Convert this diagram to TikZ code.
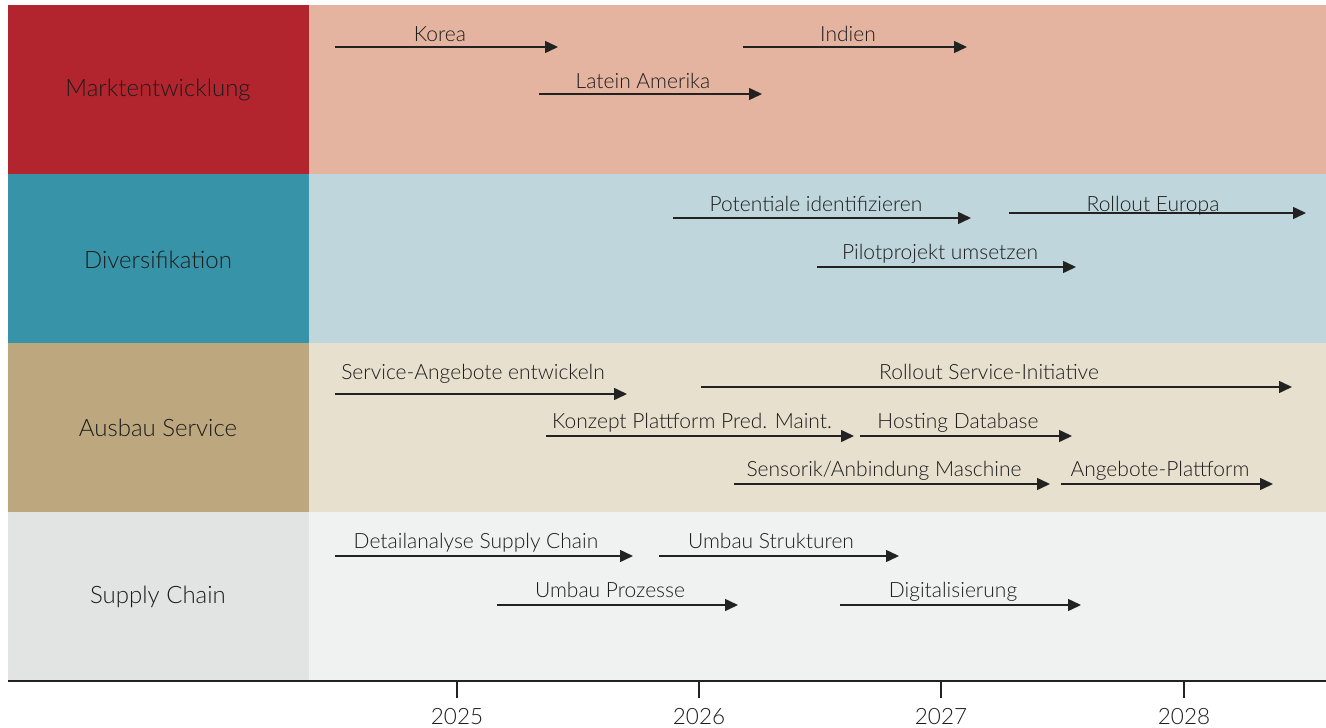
\documentclass[tikz,border=0pt]{standalone}
\usepackage{fontspec}
\setmainfont{Lato}[UprightFont={* Light}]
\usetikzlibrary{arrows.meta}

\definecolor{mkDark}{HTML}{B3252E}
\definecolor{mkLight}{HTML}{E5B4A0}
\definecolor{dvDark}{HTML}{3793A8}
\definecolor{dvLight}{HTML}{BFD6DC}
\definecolor{svDark}{HTML}{BCA77E}
\definecolor{svLight}{HTML}{E8E0CE}
\definecolor{scDark}{HTML}{E2E4E3}
\definecolor{scLight}{HTML}{F0F2F1}
\definecolor{ink}{HTML}{222222}
\definecolor{txt}{HTML}{1C1C1C}

\tikzset{
  taskarrow/.style={draw=ink, line width=1.5pt, -{Triangle[length=13pt,width=12pt]}},
  tasklabel/.style={anchor=base, text=txt, font=\fontsize{21}{24}\selectfont, inner sep=0pt},
  rowlabel/.style={text=txt, font=\fontsize{24}{27}\selectfont, inner sep=0pt},
  yearlabel/.style={anchor=base, text=txt, font=\fontsize{22.5}{26}\selectfont, inner sep=0pt},
  axisline/.style={draw=ink, line width=2pt},
  tickmark/.style={draw=ink, line width=2.5pt}
}

% one task: name, start x, end x, line y, label x, label baseline y, text
\newcommand{\task}[7]{%
  \coordinate (#1-s) at (#2,#4);
  \coordinate (#1-e) at (#3,#4);
  \draw[taskarrow] (#1-s) -- (#1-e);
  \node[tasklabel] (#1-l) at (#5,#6) {#7};
}

\begin{document}
\begin{tikzpicture}[x=1pt,y=-1pt]
\useasboundingbox (0,0) rectangle (1326,728);
\fill[white] (0,0) rectangle (1326,728);

% swim lanes
\fill[mkLight] (309,5) rectangle (1326,174);
\fill[mkDark]  (8,5)   rectangle (309,174);
\fill[dvLight] (309,174) rectangle (1326,343);
\fill[dvDark]  (8,174)   rectangle (309,343);
\fill[svLight] (309,343) rectangle (1326,512);
\fill[svDark]  (8,343)   rectangle (309,512);
\fill[scLight] (309,512) rectangle (1326,680);
\fill[scDark]  (8,512)   rectangle (309,680);

\node[rowlabel] (lane1) at (158,90)  {Marktentwicklung};
\node[rowlabel] (lane2) at (158,260) {Diversifikation};
\node[rowlabel] (lane3) at (158,428) {Ausbau Service};
\node[rowlabel] (lane4) at (158,597) {Supply Chain};

% Marktentwicklung
\task{korea}{335}{558}{47}{440}{41}{Korea}
\task{indien}{743}{967}{47}{848}{41}{Indien}
\task{latam}{539}{762}{94}{643}{88}{Latein Amerika}

% Diversifikation
\task{potent}{673}{971}{218}{816}{211}{Potentiale identifizieren}
\task{europa}{1009}{1306}{213}{1153}{211}{Rollout Europa}
\task{pilot}{817}{1076}{267}{940}{259}{Pilotprojekt umsetzen}

% Ausbau Service
\task{svcdev}{335}{627}{394}{473}{379}{Service-Angebote entwickeln}
\task{svcroll}{701}{1292}{387}{989}{379}{Rollout Service-Initiative}
\task{konzept}{546}{854}{436}{692}{428}{Konzept Plattform Pred. Maint.}
\task{hosting}{860}{1072}{436}{958}{428}{Hosting Database}
\task{sensor}{734}{1050}{484}{884}{476}{Sensorik/Anbindung Maschine}
\task{angebot}{1061}{1273}{484}{1160}{476}{Angebote-Plattform}

% Supply Chain
\task{detail}{335}{633}{556}{476}{548}{Detailanalyse Supply Chain}
\task{struct}{659}{899}{556}{771}{548}{Umbau Strukturen}
\task{proz}{497}{738}{605}{610}{597}{Umbau Prozesse}
\task{digital}{840}{1081}{605}{953}{597}{Digitalisierung}

% time axis
\coordinate (ax-l) at (8,681);
\coordinate (ax-r) at (1326,681);
\draw[axisline] (ax-l) -- (ax-r);
\foreach \yr/\xx in {2025/457,2026/699,2027/941,2028/1184}{
  \coordinate (t\yr-a) at (\xx,681);
  \coordinate (t\yr-b) at (\xx,698);
  \draw[tickmark] (t\yr-a) -- (t\yr-b);
  \node[yearlabel] (y\yr) at (\xx,724) {\yr};
}
\end{tikzpicture}
\end{document}
